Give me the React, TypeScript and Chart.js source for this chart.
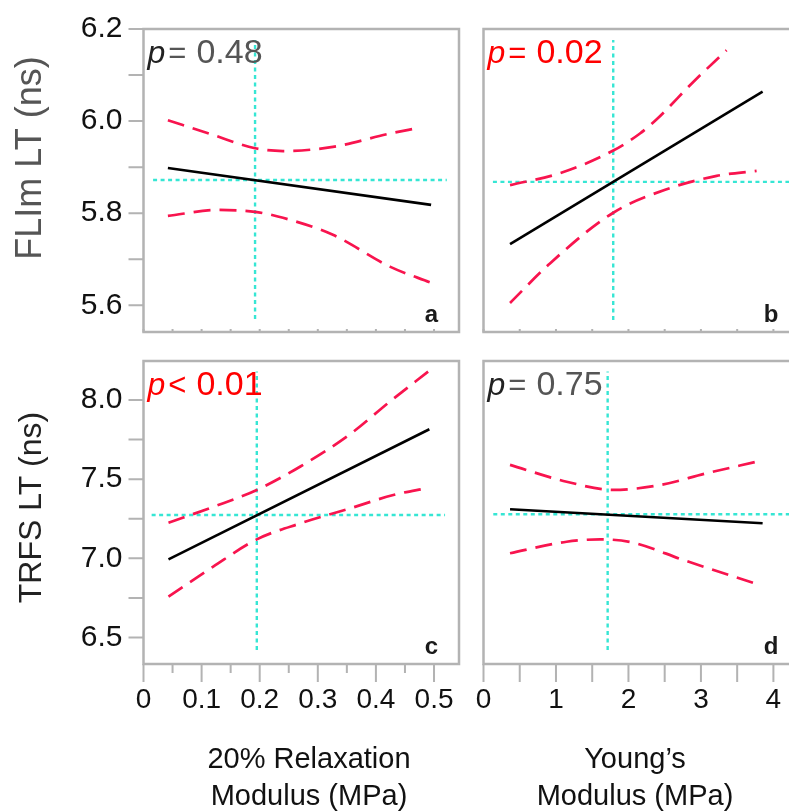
import React, { useEffect, useRef } from 'react';
import { Chart, registerables } from 'chart.js';

Chart.register(...registerables);

const FONT = "'Liberation Sans', Arial, Helvetica, sans-serif";
const RED = '#f8144e';
const CYAN = '#36e6d4';
const GREY = '#b3b3b3';
const CANVAS_W = 820;
const CANVAS_H = 811;

// ---------- tick values / labels ----------
const X_TICKS_RELAX = [0, 0.05, 0.1, 0.15, 0.2, 0.25, 0.3, 0.35, 0.4, 0.45, 0.5];
const X_LABELS_RELAX = ['0', '', '0.1', '', '0.2', '', '0.3', '', '0.4', '', '0.5'];
const X_TICKS_YOUNG = [0, 0.5, 1, 1.5, 2, 2.5, 3, 3.5, 4];
const X_LABELS_YOUNG = ['0', '', '1', '', '2', '', '3', '', '4'];
const Y_TICKS_FLIM = [5.6, 5.7, 5.8, 5.9, 6.0, 6.1, 6.2];
const Y_LABELS_FLIM = ['5.6', '', '5.8', '', '6.0', '', '6.2'];
const Y_TICKS_TRFS = [6.5, 6.75, 7.0, 7.25, 7.5, 7.75, 8.0];
const Y_LABELS_TRFS = ['6.5', '', '7.0', '', '7.5', '', '8.0'];

// ---------- panel a: FLIm LT vs 20% relaxation modulus ----------
const A_FIT_X = [0.042, 0.495];
const A_FIT_Y = [5.898, 5.818];
const A_UP_X = [0.042, 0.115, 0.192, 0.24, 0.326, 0.424, 0.472];
const A_UP_Y = [6.002, 5.972, 5.941, 5.935, 5.944, 5.973, 5.985];
const A_LO_X = [0.042, 0.127, 0.192, 0.24, 0.326, 0.424, 0.495];
const A_LO_Y = [5.794, 5.807, 5.803, 5.79, 5.753, 5.684, 5.649];
const A_MEAN_X = 0.192;
const A_VLINE_Y = [5.57, 6.176];
const A_MEAN_Y = 5.872;
const A_HLINE_X = [0.0165, 0.522];

// ---------- panel b: FLIm LT vs Young's modulus ----------
const B_FIT_X = [0.366, 3.851];
const B_FIT_Y = [5.733, 6.064];
const B_UP_X = [0.366, 1.06, 1.79, 2.159, 2.39, 2.894, 3.354];
const B_UP_Y = [5.861, 5.887, 5.936, 5.973, 6.004, 6.085, 6.154];
const B_LO_X = [0.366, 0.917, 1.79, 2.527, 3.217, 3.768];
const B_LO_Y = [5.605, 5.691, 5.801, 5.852, 5.881, 5.892];
const B_MEAN_X = 1.79;
const B_VLINE_Y = [5.568, 6.176];
const B_MEAN_Y = 5.868;
const B_HLINE_X = [0.13, 4.36];

// ---------- panel c: TRFS LT vs 20% relaxation modulus ----------
const C_FIT_X = [0.043, 0.492];
const C_FIT_Y = [6.994, 7.815];
const C_UP_X = [0.043, 0.12, 0.195, 0.27, 0.356, 0.424, 0.49];
const C_UP_Y = [7.225, 7.325, 7.432, 7.58, 7.785, 7.99, 8.179];
const C_LO_X = [0.043, 0.12, 0.195, 0.27, 0.356, 0.43, 0.49];
const C_LO_Y = [6.758, 6.948, 7.12, 7.221, 7.316, 7.4, 7.445];
const C_MEAN_X = 0.195;
const C_VLINE_Y = [6.422, 8.179];
const C_MEAN_Y = 7.274;
const C_HLINE_X = [0.014, 0.519];

// ---------- panel d: TRFS LT vs Young's modulus ----------
const D_FIT_X = [0.366, 3.851];
const D_FIT_Y = [7.31, 7.222];
const D_UP_X = [0.366, 1.147, 1.79, 2.434, 3.078, 3.768];
const D_UP_Y = [7.59, 7.484, 7.432, 7.463, 7.537, 7.61];
const D_LO_X = [0.366, 1.147, 1.607, 2.066, 2.756, 3.768];
const D_LO_Y = [7.032, 7.105, 7.12, 7.099, 6.99, 6.838];
const D_MEAN_X = 1.713;
const D_VLINE_Y = [6.422, 8.179];
const D_MEAN_Y = 7.278;
const D_HLINE_X = [0.135, 4.36];

// ---------- p values ----------
const P_SYMBOLS = ['=', '=', '<', '='];
const P_VALUES = ['0.48', '0.02', '0.01', '0.75'];
const P_SIGNIFICANT = [false, true, true, false];
const PANEL_LETTERS = ['a', 'b', 'c', 'd'];

// Detect whether a narrow sans is installed (for the x tick labels)
function narrowAvailable(): boolean {
  try {
    const c = document.createElement('canvas').getContext('2d');
    if (!c) return false;
    c.font = "30px 'Liberation Sans Narrow', monospace";
    const a = c.measureText('0.1 0.2 0.3').width;
    c.font = '30px monospace';
    const b = c.measureText('0.1 0.2 0.3').width;
    return Math.abs(a - b) > 0.5;
  } catch (e) {
    return false;
  }
}
const HAS_NARROW = narrowAvailable();
const X_TICK_FONT = HAS_NARROW
  ? { family: "'Liberation Sans Narrow', " + FONT, size: 31 }
  : { family: FONT, size: 28 };

type Area = { left: number; top: number; right: number; bottom: number };

type PanelSpec = {
  key: string;
  area: Area;
  xMin: number; xMax: number; yMin: number; yMax: number;
  xTicks: number[]; xLabels: string[] | null; xTickLen: number[];
  yTicks: number[] | null; yLabels: string[] | null;
  fit: [number[], number[]]; up: [number[], number[]]; lo: [number[], number[]];
  meanX: number; vlineY: number[]; meanY: number; hlineX: number[];
  idx: number;
  yTitle?: { text: string; x: number; y: number; size: number; color: string };
  xTitle?: { lines: string[]; x: number; baselines: number[] };
};

const PANELS: PanelSpec[] = [
  {
    key: 'a', idx: 0,
    area: { left: 143.5, top: 29, right: 459, bottom: 332 },
    xMin: 0, xMax: 0.543, yMin: 5.542, yMax: 6.2,
    xTicks: X_TICKS_RELAX, xLabels: null, xTickLen: X_TICKS_RELAX.map(() => -3),
    yTicks: Y_TICKS_FLIM, yLabels: Y_LABELS_FLIM,
    fit: [A_FIT_X, A_FIT_Y], up: [A_UP_X, A_UP_Y], lo: [A_LO_X, A_LO_Y],
    meanX: A_MEAN_X, vlineY: A_VLINE_Y, meanY: A_MEAN_Y, hlineX: A_HLINE_X,
    yTitle: { text: 'FLIm LT (ns)', x: 41, y: 158, size: 36, color: '#555555' },
  },
  {
    key: 'b', idx: 1,
    area: { left: 483.5, top: 29, right: 799.5, bottom: 332 },
    xMin: 0, xMax: 4.36, yMin: 5.542, yMax: 6.2,
    xTicks: X_TICKS_YOUNG, xLabels: null, xTickLen: X_TICKS_YOUNG.map(() => -3),
    yTicks: null, yLabels: null,
    fit: [B_FIT_X, B_FIT_Y], up: [B_UP_X, B_UP_Y], lo: [B_LO_X, B_LO_Y],
    meanX: B_MEAN_X, vlineY: B_VLINE_Y, meanY: B_MEAN_Y, hlineX: B_HLINE_X,
  },
  {
    key: 'c', idx: 2,
    area: { left: 143.5, top: 361, right: 459, bottom: 664 },
    xMin: 0, xMax: 0.543, yMin: 6.333, yMax: 8.246,
    xTicks: X_TICKS_RELAX, xLabels: X_LABELS_RELAX,
    xTickLen: X_LABELS_RELAX.map((l) => (l ? 18 : 9)),
    yTicks: Y_TICKS_TRFS, yLabels: Y_LABELS_TRFS,
    fit: [C_FIT_X, C_FIT_Y], up: [C_UP_X, C_UP_Y], lo: [C_LO_X, C_LO_Y],
    meanX: C_MEAN_X, vlineY: C_VLINE_Y, meanY: C_MEAN_Y, hlineX: C_HLINE_X,
    yTitle: { text: 'TRFS LT (ns)', x: 40.5, y: 507.5, size: 32, color: '#222222' },
    xTitle: { lines: ['20% Relaxation', 'Modulus (MPa)'], x: 309, baselines: [768, 805] },
  },
  {
    key: 'd', idx: 3,
    area: { left: 483.5, top: 361, right: 799.5, bottom: 664 },
    xMin: 0, xMax: 4.36, yMin: 6.333, yMax: 8.246,
    xTicks: X_TICKS_YOUNG, xLabels: X_LABELS_YOUNG, xTickLen: X_TICKS_YOUNG.map(() => 18),
    yTicks: null, yLabels: null,
    fit: [D_FIT_X, D_FIT_Y], up: [D_UP_X, D_UP_Y], lo: [D_LO_X, D_LO_Y],
    meanX: D_MEAN_X, vlineY: D_VLINE_Y, meanY: D_MEAN_Y, hlineX: D_HLINE_X,
    xTitle: { lines: ['Young\u2019s', 'Modulus (MPa)'], x: 635, baselines: [768, 805] },
  },
];

const X_AXIS_H = 100;

function pts(xs: number[], ys: number[]) {
  return xs.map((x, i) => ({ x, y: ys[i] }));
}

function decorPlugin(p: PanelSpec) {
  return {
    id: 'decor_' + p.key,
    afterDraw(chart: any) {
      const ctx: CanvasRenderingContext2D = chart.ctx;
      const a = chart.chartArea;
      const xs = chart.scales.x;
      const ys = chart.scales.y;
      ctx.save();
      // ticks
      ctx.strokeStyle = GREY;
      ctx.lineWidth = 2;
      ctx.beginPath();
      if (p.yTicks) {
        p.yTicks.forEach((v) => {
          const y = ys.getPixelForValue(v);
          ctx.moveTo(a.left - 15, y);
          ctx.lineTo(a.left, y);
        });
      }
      p.xTicks.forEach((v, i) => {
        const x = xs.getPixelForValue(v);
        ctx.moveTo(x, a.bottom);
        ctx.lineTo(x, a.bottom + p.xTickLen[i]);
      });
      ctx.stroke();
      // frame
      ctx.lineWidth = 2.5;
      ctx.strokeRect(a.left, a.top, a.right - a.left, a.bottom - a.top);

      // p-value text
      const sig = P_SIGNIFICANT[p.idx];
      const pColor = sig ? '#ff0000' : '#222222';
      const restColor = sig ? '#ff0000' : '#555555';
      const base = a.top + 34;
      let x = a.left + 4;
      ctx.textAlign = 'left';
      ctx.textBaseline = 'alphabetic';
      ctx.font = `italic 32px ${FONT}`;
      ctx.fillStyle = pColor;
      ctx.fillText('p', x, base);
      x += ctx.measureText('p').width + 3;
      ctx.font = `31px ${FONT}`;
      ctx.fillStyle = restColor;
      ctx.fillText(P_SYMBOLS[p.idx], x, base);
      x += ctx.measureText(P_SYMBOLS[p.idx]).width + 10;
      ctx.font = `34px ${FONT}`;
      ctx.fillText(P_VALUES[p.idx], x, base);

      // panel letter
      ctx.font = `bold 24px ${FONT}`;
      ctx.fillStyle = '#1a1a1a';
      ctx.textAlign = 'right';
      ctx.fillText(PANEL_LETTERS[p.idx], a.right - 21, a.bottom - 10);

      // y title
      if (p.yTitle) {
        const t = p.yTitle;
        ctx.save();
        ctx.translate(t.x, t.y);
        ctx.rotate(-Math.PI / 2);
        ctx.font = `${t.size}px ${FONT}`;
        ctx.fillStyle = t.color;
        ctx.textAlign = 'center';
        ctx.textBaseline = 'alphabetic';
        ctx.fillText(t.text, 0, 0);
        ctx.restore();
      }
      // x title
      if (p.xTitle) {
        const t = p.xTitle;
        ctx.font = `29px ${FONT}`;
        ctx.fillStyle = '#111111';
        ctx.textAlign = 'center';
        ctx.textBaseline = 'alphabetic';
        t.lines.forEach((line, i) => ctx.fillText(line, t.x, t.baselines[i]));
      }
      ctx.restore();
    },
  };
}

function makeConfig(p: PanelSpec): any {
  const hasY = !!p.yTicks;
  const hasXLabels = !!p.xLabels;
  const padding = {
    left: hasY ? 0 : p.area.left,
    top: p.area.top,
    right: CANVAS_W - p.area.right,
    bottom: hasXLabels ? CANVAS_H - p.area.bottom - X_AXIS_H : CANVAS_H - p.area.bottom,
  };
  const curve = {
    borderColor: RED,
    borderWidth: 2.7,
    borderDash: [17, 9],
    pointRadius: 0,
    fill: false,
    cubicInterpolationMode: 'monotone',
  };
  const cyan = {
    borderColor: CYAN,
    borderWidth: 2.4,
    borderDash: [4, 3.5],
    pointRadius: 0,
    fill: false,
    tension: 0,
  };
  return {
    type: 'line',
    data: {
      datasets: [
        { data: pts(p.fit[0], p.fit[1]), borderColor: '#000000', borderWidth: 2.6, pointRadius: 0, fill: false, tension: 0 },
        { data: pts(p.up[0], p.up[1]), ...curve },
        { data: pts(p.lo[0], p.lo[1]), ...curve },
        { data: [{ x: p.meanX, y: p.vlineY[0] }, { x: p.meanX, y: p.vlineY[1] }], ...cyan },
        { data: [{ x: p.hlineX[0], y: p.meanY }, { x: p.hlineX[1], y: p.meanY }], ...cyan },
      ],
    },
    options: {
      responsive: false,
      animation: false,
      devicePixelRatio: 1,
      events: [],
      layout: { padding },
      plugins: { legend: { display: false }, tooltip: { enabled: false }, title: { display: false } },
      scales: {
        x: {
          type: 'linear',
          min: p.xMin,
          max: p.xMax,
          display: hasXLabels,
          afterBuildTicks: (s: any) => { s.ticks = p.xTicks.map((v) => ({ value: v })); },
          ticks: {
            autoSkip: false,
            maxRotation: 0,
            minRotation: 0,
            padding: 1,
            color: '#111111',
            font: X_TICK_FONT,
            callback: (_v: any, i: number) => (p.xLabels ? p.xLabels[i] : ''),
          },
          grid: { drawOnChartArea: false, drawTicks: true, tickLength: 18, tickColor: 'rgba(0,0,0,0)' },
          border: { display: false },
          afterFit: (s: any) => { s.height = hasXLabels ? X_AXIS_H : 0; },
        },
        y: {
          type: 'linear',
          min: p.yMin,
          max: p.yMax,
          display: hasY,
          afterBuildTicks: (s: any) => { if (p.yTicks) s.ticks = p.yTicks.map((v) => ({ value: v })); },
          ticks: {
            autoSkip: false,
            padding: 6,
            color: '#111111',
            font: { family: FONT, size: 30 },
            callback: (_v: any, i: number) => (p.yLabels ? p.yLabels[i] : ''),
          },
          grid: { drawOnChartArea: false, drawTicks: true, tickLength: 15, tickColor: 'rgba(0,0,0,0)' },
          border: { display: false },
          afterFit: (s: any) => { s.width = hasY ? p.area.left : 0; },
        },
      },
    },
    plugins: [decorPlugin(p)],
  };
}

export default function App() {
  const r0 = useRef<HTMLCanvasElement>(null);
  const r1 = useRef<HTMLCanvasElement>(null);
  const r2 = useRef<HTMLCanvasElement>(null);
  const r3 = useRef<HTMLCanvasElement>(null);
  const refs = [r0, r1, r2, r3];

  useEffect(() => {
    const charts = PANELS.map((p, i) => new Chart(refs[i].current as HTMLCanvasElement, makeConfig(p)));
    return () => charts.forEach((c) => c.destroy());
  }, []);

  return (
    <div
      style={{
        position: 'fixed',
        left: 0,
        top: 0,
        width: 789,
        height: 811,
        overflow: 'hidden',
        background: '#ffffff',
      }}
    >
      {PANELS.map((p, i) => (
        <canvas
          key={p.key}
          ref={refs[i]}
          width={CANVAS_W}
          height={CANVAS_H}
          style={{ position: 'absolute', left: 0, top: 0, width: CANVAS_W, height: CANVAS_H }}
        />
      ))}
    </div>
  );
}
